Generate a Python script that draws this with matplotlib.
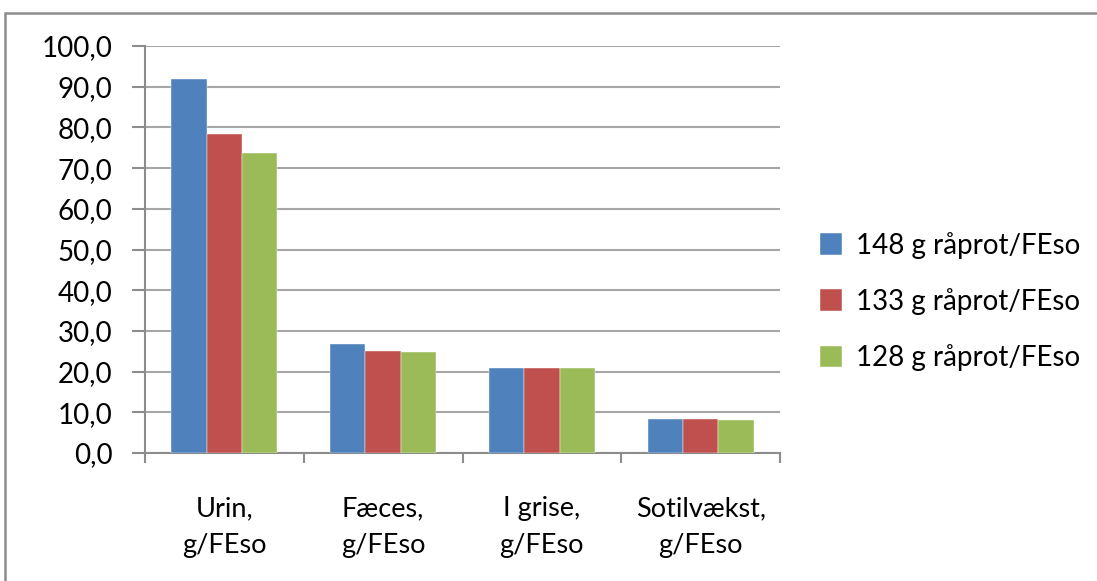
import matplotlib.pyplot as plt
import numpy as np
from matplotlib.patches import Rectangle

plt.rcParams['font.family'] = ['Lato', 'DejaVu Sans']

categories = ['Urin,\ng/FEso', 'Fæces,\ng/FEso', 'I grise,\ng/FEso', 'Sotilvækst,\ng/FEso']
series = ['148 g råprot/FEso', '133 g råprot/FEso', '128 g råprot/FEso']
v148 = [91.9, 26.7, 21.0, 8.4]
v133 = [78.5, 25.1, 21.0, 8.4]
v128 = [73.6, 24.8, 21.0, 8.1]
colors = ['#4F81BD', '#C0504D', '#9BBB59']

fig = plt.figure(figsize=(10.97, 5.81), dpi=100)
ax = fig.add_axes([145 / 1097, 1 - 453 / 581, 635 / 1097, 407 / 581])

# outer chart border
fig.patches.append(Rectangle((5 / 1097, -0.1), 1.2, 1 - 13 / 581 + 0.1,
                             transform=fig.transFigure, fill=False,
                             edgecolor='#8C8C8C', linewidth=1.8))

x = np.arange(len(categories))
w = 1 / 4.5
for i, vals in enumerate([v148, v133, v128]):
    ax.bar(x + (i - 1) * w, vals, width=w, color=colors[i], label=series[i],
           edgecolor='white', linewidth=0.3, zorder=3)

ax.set_xlim(-0.5, len(categories) - 0.5)
ax.set_ylim(0, 100)
ax.set_yticks(np.arange(0, 101, 10))
ax.set_yticklabels([f'{t:.1f}'.replace('.', ',') for t in np.arange(0, 101, 10)],
                   fontsize=20)
ax.yaxis.grid(True, color='#A6A6A6', linewidth=1.5, zorder=0)
ax.set_axisbelow(True)

ax.set_xticks(x)
ax.set_xticklabels(categories, fontsize=19.5, linespacing=1.6)
ax.tick_params(axis='x', length=0, pad=31)
ax.set_xticks(np.arange(-0.5, len(categories)), minor=True)
ax.tick_params(axis='x', which='minor', length=7, width=1.5, color='#8C8C8C')
ax.tick_params(axis='y', length=9.5, width=1.5, color='#8C8C8C', pad=14)

for s in ['top', 'right']:
    ax.spines[s].set_visible(False)
for s in ['left', 'bottom']:
    ax.spines[s].set_color('#8C8C8C')
    ax.spines[s].set_linewidth(1.5)

ax.legend(loc='center left', bbox_to_anchor=((820 - 145) / 635, 0.373),
          frameon=False, fontsize=20, handlelength=0.8, handleheight=0.8,
          handletextpad=0.5, labelspacing=1.05, borderpad=0, borderaxespad=0)

fig.savefig('out.png', dpi=100)
